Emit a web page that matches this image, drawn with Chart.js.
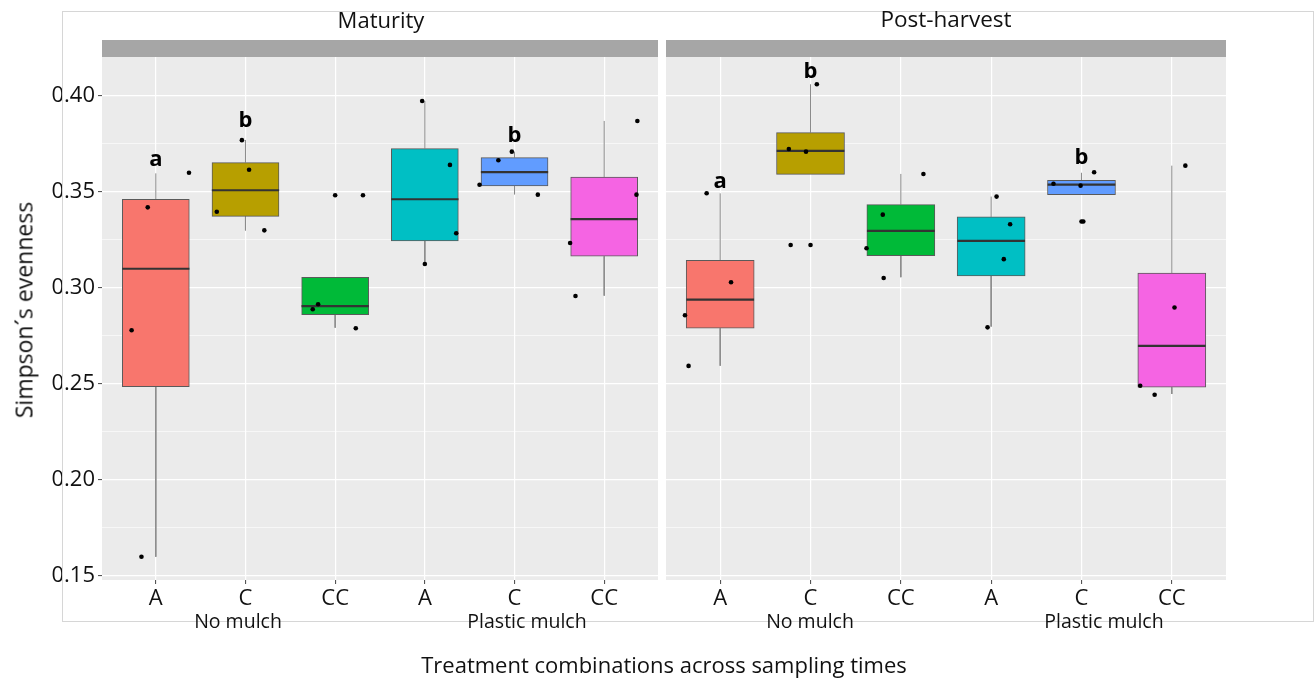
<!DOCTYPE html>
<html><head><meta charset="utf-8">
<script src="https://cdn.jsdelivr.net/npm/chart.js@4/dist/chart.umd.min.js"></script>
<style>
html,body{margin:0;padding:0;background:#fff;}
body{width:1314px;height:678px;position:relative;overflow:hidden;font-family:'Open Sans',sans-serif;color:#111;}
canvas{position:absolute;top:0;}
#c1{left:0;}
#c2{left:662px;}
.frame{position:absolute;left:62px;top:11px;width:1252px;height:611px;border:1px solid #d6d6d6;box-sizing:border-box;pointer-events:none;}
.t{position:absolute;white-space:nowrap;transform:translate(-50%,-50%);line-height:1;}
</style></head><body>
<canvas id="c1" width="662" height="678"></canvas>
<canvas id="c2" width="652" height="678"></canvas>
<div class="frame"></div>
<div id="texts"></div>
<script>
// ---------- data ----------
const categories = ['A','C','CC','A','C','CC'];
const mulchGroups = ['No mulch','Plastic mulch'];
const facetTitles = ['Maturity','Post-harvest'];
const yMajorTicks = [0.15,0.20,0.25,0.30,0.35,0.40];
const yMinorTicks = [0.175,0.225,0.275,0.325,0.375];
const boxColors = ['#F8766D','#B79F00','#00BA38','#00BFC4','#619CFF','#F564E3'];
const yTitle = 'Simpson\u00B4s evenness';
const xTitle = 'Treatment combinations across sampling times';

// Maturity
const matLow    = [0.160, 0.330, 0.2793, 0.3125, 0.3488, 0.296];
const matQ1     = [0.2486, 0.3373, 0.2861, 0.3245, 0.3531, 0.3165];
const matMedian = [0.310, 0.3509, 0.2905, 0.3462, 0.3603, 0.3359];
const matQ3     = [0.3462, 0.3653, 0.3056, 0.3726, 0.3679, 0.3578];
const matHigh   = [0.3597, 0.3771, 0.3056, 0.3974, 0.3710, 0.387];
const matPoints = [
  [0.342, 0.360, 0.278, 0.160],
  [0.377, 0.3616, 0.3397, 0.330],
  [0.2915, 0.2889, 0.279, 0.3483],
  [0.3974, 0.3641, 0.3285, 0.3125],
  [0.3665, 0.3538, 0.371, 0.3486],
  [0.387, 0.3486, 0.3234, 0.2958]
];
const matJitter = [
  [-0.09, 0.37, -0.27, -0.16],
  [-0.04, 0.04, -0.32, 0.21],
  [-0.19, -0.25, 0.23, 0.31],
  [-0.03, 0.28, 0.35, 0.0],
  [-0.18, -0.39, -0.03, 0.26],
  [0.37, 0.36, -0.38, -0.32]
];
const matOutliers = [[],[],[0.3483],[],[],[]];
const matLetters = ['a','b','','','b',''];
const matLetterY = [0.3667, 0.3871, null, null, 0.3792, null];

// Post-harvest
const postLow    = [0.2595, 0.3592, 0.3056, 0.2799, 0.3486, 0.2448];
const postQ1     = [0.279, 0.3592, 0.3168, 0.3063, 0.3486, 0.2483];
const postMedian = [0.2939, 0.3714, 0.3297, 0.3245, 0.3538, 0.2698];
const postQ3     = [0.3144, 0.3809, 0.3434, 0.337, 0.3561, 0.3078];
const postHigh   = [0.3493, 0.4061, 0.3594, 0.3476, 0.360, 0.3637];
const postPoints = [
  [0.3493, 0.303, 0.2858, 0.2594],
  [0.4061, 0.3724, 0.371, 0.3224],
  [0.3594, 0.3382, 0.3207, 0.3052],
  [0.3476, 0.3332, 0.315, 0.2795],
  [0.3603, 0.3543, 0.3533, 0.3346],
  [0.3637, 0.2898, 0.2491, 0.2444]
];
const postJitter = [
  [-0.15, 0.12, -0.39, -0.35],
  [0.07, -0.24, -0.05, -0.22],
  [0.25, -0.20, -0.38, -0.19],
  [0.06, 0.21, 0.14, -0.04],
  [0.14, -0.31, -0.01, 0.02],
  [0.15, 0.03, -0.35, -0.19]
];
const postOutliers = [[],[0.3224],[],[],[0.3346],[]];
const postLetters = ['a','b','','','b',''];
const postLetterY = [0.3554, 0.4127, null, null, 0.3676, null];

// ---------- style ----------
const FONT = "'Open Sans', sans-serif";
const BOX_W = 0.75;
const Y_MIN = 0.1479, Y_MAX = 0.4203;
const isMajor = v => yMajorTicks.some(t => Math.abs(t - v) < 1e-6);

function buildDatasets(d){
  const whisk = [], med = [], boxes = [], pts = [];
  categories.forEach((c,i)=>{
    const x = i+1;
    whisk.push({x, y:d.q3[i]},{x, y:d.high[i]},{x, y:null},{x, y:d.q1[i]},{x, y:d.low[i]},{x, y:null});
    med.push({x:x-BOX_W/2, y:d.median[i]},{x:x+BOX_W/2, y:d.median[i]},{x:x+BOX_W/2, y:null});
    boxes.push({x, y:[d.q1[i], d.q3[i]]});
    d.points[i].forEach((v,j)=>pts.push({x:x+d.jitter[i][j], y:v}));
    d.outliers[i].forEach(v=>pts.push({x, y:v}));
  });
  return [
    {type:'line', data:whisk, borderColor:'#8a8a8a', borderWidth:1, pointRadius:0, spanGaps:false, order:4},
    {type:'bar', data:boxes, backgroundColor:boxColors, borderColor:'#5a5a5a', borderWidth:1, borderSkipped:false, barThickness:d.boxPx, order:3},
    {type:'line', data:med, borderColor:'#333333', borderWidth:2.2, pointRadius:0, spanGaps:false, order:2},
    {type:'scatter', data:pts, pointRadius:2.3, backgroundColor:'#000', borderWidth:0, order:1}
  ];
}

const panelPlugin = {
  id:'panel',
  beforeDraw(chart){
    const {ctx, chartArea:a} = chart;
    ctx.save();
    ctx.fillStyle = '#EBEBEB';
    ctx.fillRect(a.left, a.top, a.right-a.left, a.bottom-a.top);
    ctx.fillStyle = '#A6A6A6';
    ctx.fillRect(a.left, a.top-17, a.right-a.left, 17);
    ctx.restore();
  },
  afterDatasetsDraw(chart){
    const d = chart.options.plugins.panel;
    const {ctx, scales} = chart;
    ctx.save();
    ctx.font = "bold 22px " + FONT;
    ctx.fillStyle = '#000';
    ctx.textAlign = 'center';
    ctx.textBaseline = 'middle';
    d.letters.forEach((l,i)=>{
      if(!l) return;
      ctx.fillText(l, scales.x.getPixelForValue(i+1), scales.y.getPixelForValue(d.letterY[i]));
    });
    ctx.restore();
  }
};

function makeChart(id, d, showY, pad){
  return new Chart(document.getElementById(id), {
    type:'scatter',
    data:{datasets:buildDatasets(d)},
    plugins:[panelPlugin],
    options:{
      responsive:false, animation:false, events:[],
      layout:{padding:{left:0, right:pad.right, top:57, bottom:0}},
      plugins:{legend:{display:false}, tooltip:{enabled:false}, panel:{letters:d.letters, letterY:d.letterY}},
      scales:{
        x:{
          type:'linear', min:0.4, max:6.6, bounds:'data', offset:false,
          afterBuildTicks: s => { s.ticks = categories.map((c,i)=>({value:i+1})); },
          afterFit: s => { s.height = 98; },
          ticks:{callback: v => categories[Math.round(v)-1] || '', font:{family:FONT, size:22}, color:'#111', padding:2, maxRotation:0, autoSkip:false},
          grid:{color:'#ffffff', lineWidth:1.2, tickColor:'#444', tickLength:4, tickWidth:1, offset:false},
          border:{display:false}
        },
        y:{
          type:'linear', min:Y_MIN, max:Y_MAX, bounds:'data',
          afterBuildTicks: s => { s.ticks = yMajorTicks.concat(yMinorTicks).sort((a,b)=>a-b).map(v=>({value:v})); },
          afterFit: s => { s.width = pad.yWidth; },
          ticks:{display:showY, callback: v => isMajor(v) ? v.toFixed(2) : '', font:{family:FONT, size:22}, color:'#111', padding:3, autoSkip:false},
          grid:{
            color:'#ffffff',
            lineWidth: c => (c.tick && isMajor(c.tick.value)) ? 1.2 : 0.6,
            tickColor: c => (showY && c.tick && isMajor(c.tick.value)) ? '#444' : 'rgba(0,0,0,0)',
            tickLength: showY ? 4 : 0, drawTicks: showY, tickWidth:1
          },
          border:{display:false}
        }
      }
    }
  });
}

makeChart('c1', {low:matLow, q1:matQ1, median:matMedian, q3:matQ3, high:matHigh, points:matPoints, jitter:matJitter, outliers:matOutliers, letters:matLetters, letterY:matLetterY, boxPx:67}, true, {right:4, yWidth:102});
makeChart('c2', {low:postLow, q1:postQ1, median:postMedian, q3:postQ3, high:postHigh, points:postPoints, jitter:postJitter, outliers:postOutliers, letters:postLetters, letterY:postLetterY, boxPx:68}, false, {right:88, yWidth:4});

// ---------- HTML texts ----------
const texts = document.getElementById('texts');
function addText(str, x, y, size, extra){
  const el = document.createElement('div');
  el.className = 't';
  el.textContent = str;
  el.style.left = x + 'px'; el.style.top = y + 'px'; el.style.fontSize = size + 'px';
  if(extra) el.style.transform = extra;
  texts.appendChild(el);
}
const facetX = [381, 946];
const facetSize = [22, 22.5];
facetTitles.forEach((t,i)=>addText(t, facetX[i], 19, facetSize[i]));
const groupX = [[238, 527],[810, 1104]];
groupX.forEach(row=>row.forEach((x,j)=>addText(mulchGroups[j], x, 621, 19.5)));
addText(xTitle, 664, 664, 22);
addText(yTitle, 24, 310, 23, 'translate(-50%,-50%) rotate(-90deg)');
</script>
</body></html>
